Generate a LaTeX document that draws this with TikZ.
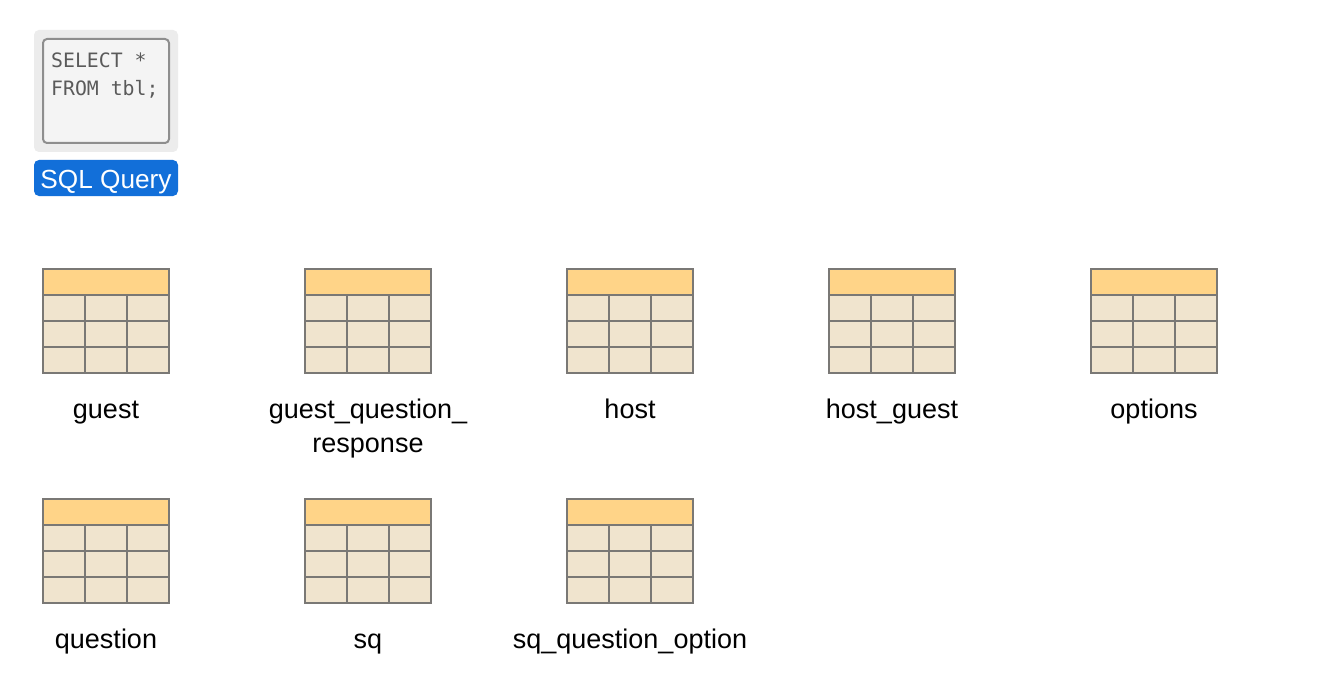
\documentclass[tikz,border=0pt]{standalone}
\usepackage{fontspec}
\setmainfont{Liberation Sans}
\newfontfamily\codefont{DejaVu Sans Mono}
\definecolor{gridgray}{HTML}{7A7875}
\definecolor{headfill}{HTML}{FFD488}
\definecolor{cellfill}{HTML}{F0E4CE}
\definecolor{outerbox}{HTML}{ECECEC}
\definecolor{innerbox}{HTML}{F4F4F4}
\definecolor{innerline}{HTML}{8E8E8E}
\definecolor{querytext}{HTML}{5A5A5A}
\definecolor{querytag}{HTML}{126FD9}
\tikzset{
  x=1pt,y=-1pt,
  tablabel/.style={font=\fontsize{27}{34}\selectfont,text=black,align=center,inner sep=0pt,anchor=base},
  gridline/.style={draw=gridgray,line width=1.8pt},
  pics/dbtable/.style={code={
    \fill[cellfill] (0,0) rectangle (126,104);
    \fill[headfill] (0,0) rectangle (126,26);
    \draw[gridline] (0,26) -- (126,26) (0,52) -- (126,52) (0,78) -- (126,78)
      (42,26) -- (42,104) (84,26) -- (84,104);
    \draw[gridline] (0,0) rectangle (126,104);
  }}
}
\begin{document}
\begin{tikzpicture}
\useasboundingbox (0,0) rectangle (1328,690);
\fill[white] (0,0) rectangle (1328,690);
\node[draw=none,fill=outerbox,rounded corners=5pt,minimum width=144pt,minimum height=122pt,inner sep=0pt] (queryouter) at (106,91) {};
\node[draw=innerline,line width=2pt,fill=innerbox,rounded corners=4pt,minimum width=126pt,minimum height=104pt,inner sep=0pt] (queryinner) at (106,91) {};
\node[font=\codefont\fontsize{19.8}{28}\selectfont,text=querytext,align=left,anchor=north west,inner sep=0pt] (querycode) at (51,53) {SELECT *\\FROM tbl;};
\node[fill=querytag,rounded corners=5pt,minimum width=144pt,minimum height=36pt,inner sep=0pt] (querytagnode) at (106,178) {};
\node[text=white,font=\fontsize{26.2}{32}\selectfont,inner sep=0pt,anchor=base] (querytaglabel) at (106,188) {SQL Query};
\pic at (43,269) {dbtable};
\pic at (305,269) {dbtable};
\pic at (567,269) {dbtable};
\pic at (829,269) {dbtable};
\pic at (1091,269) {dbtable};
\pic at (43,499) {dbtable};
\pic at (305,499) {dbtable};
\pic at (567,499) {dbtable};
\node[tablabel] (l1) at (106,418) {guest};
\node[tablabel] (l2) at (368,452) {guest\_question\_\\response};
\node[tablabel] (l3) at (630,418) {host};
\node[tablabel] (l4) at (892,418) {host\_guest};
\node[tablabel] (l5) at (1154,418) {options};
\node[tablabel] (l6) at (106,648) {question};
\node[tablabel] (l7) at (368,648) {sq};
\node[tablabel] (l8) at (630,648) {sq\_question\_option};
\end{tikzpicture}
\end{document}
